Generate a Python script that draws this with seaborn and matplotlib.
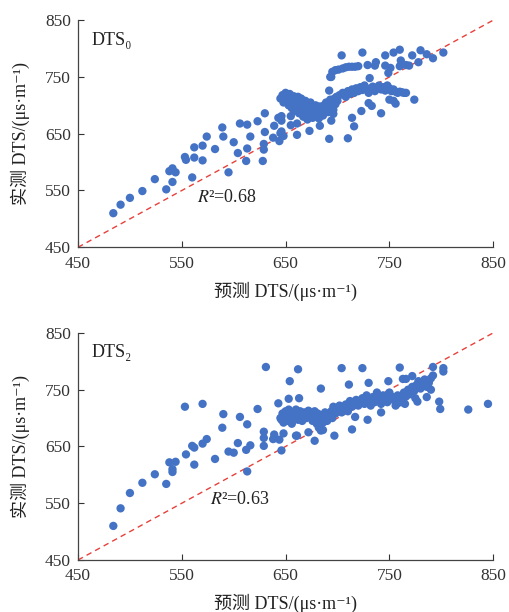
import numpy as np
import pandas as pd
import matplotlib
matplotlib.use("Agg")
import matplotlib.pyplot as plt
import seaborn as sns

pred0 = [484, 491, 500, 512, 524, 535, 538, 541, 541, 544, 553, 554, 560, 562, 562,
         570, 570, 574, 582, 589, 590, 595, 600, 604, 606, 612, 613, 613, 616, 623,
         628, 629, 629, 630, 630, 638, 639, 643, 644, 645, 646, 648, 646, 646, 655,
         655, 661, 661, 673, 672, 683, 692, 694, 696, 692, 694, 704, 698, 701, 705,
         710, 714, 716, 724, 723, 729, 731, 730, 733, 736, 737, 742, 746, 746, 749,
         751, 750, 754, 756, 754, 760, 760, 761, 766, 769, 772, 774, 778, 780, 786,
         792, 802,
         # dense blob
         645, 647, 648, 650, 651, 652, 653, 654, 655, 656, 657, 658, 659, 660, 661,
         662, 663, 664, 665, 666, 667, 668, 669, 670, 671, 672, 673, 674, 675, 676,
         677, 678, 679, 680, 681, 682, 683, 684, 685, 686, 687, 688, 689, 690, 691,
         692, 693, 694, 695, 696, 697, 698, 699, 700,
         # rising band
         702, 705, 708, 710, 712, 714, 716, 718, 720, 722, 724, 726, 728, 730, 732,
         734, 736, 738, 740, 742, 744, 746, 748, 750, 752, 754, 756, 758, 760, 762,
         764, 766,
         # upper band
         708, 711, 714, 717, 720, 693, 695]
meas0 = [510, 525, 537, 549, 570, 552, 584, 589, 565, 582, 609, 604, 573, 608, 626,
         629, 603, 645, 623, 661, 645, 582, 635, 616, 668, 602, 624, 666, 645, 672,
         602, 622, 632, 653, 686, 643, 664, 678, 637, 651, 654, 646, 673, 681, 665,
         681, 648, 668, 655, 681, 664, 641, 673, 685, 726, 750, 788, 762, 763, 765,
         642, 678, 663, 793, 690, 771, 748, 704, 699, 770, 776, 686, 788, 770, 757,
         766, 710, 708, 703, 793, 798, 769, 779, 771, 770, 788, 710, 776, 797, 790,
         783, 793,
         712, 718, 705, 722, 715, 708, 700, 720, 712, 695, 705, 716, 690, 710, 700,
         715, 686, 705, 712, 695, 680, 700, 708, 690, 675, 698, 685, 705, 692, 678,
         698, 688, 700, 683, 692, 677, 698, 688, 695, 682, 700, 690, 705, 695, 688,
         700, 710, 698, 705, 692, 712, 702, 715, 708,
         718, 722, 715, 725, 720, 728, 722, 730, 725, 732, 727, 735, 728, 722, 730,
         733, 725, 730, 735, 728, 732, 726, 735, 730, 725, 728, 724, 722, 724, 723,
         722, 722,
         767, 768, 768, 768, 769, 750, 759]

pred2 = [484, 491, 500, 512, 524, 535, 538, 541, 541, 544, 553, 554, 560, 562, 562,
         570, 570, 574, 582, 589, 590, 595, 600, 604, 606, 612, 613, 613, 616, 623,
         629, 629, 629, 631, 638, 639, 643, 644, 646, 646, 648, 653, 654, 660, 661,
         662, 663, 672, 678, 684, 686, 697, 704, 711, 714, 717, 724, 729, 730, 742,
         749, 760, 763, 766, 772, 777, 783, 786, 792, 792, 798, 799, 802, 802, 826,
         845,
         # dense blob and band
         645, 647, 648, 650, 651, 652, 653, 654, 655, 656, 657, 658, 660, 661, 662,
         664, 665, 666, 668, 670, 672, 674, 676, 678, 679, 680, 681, 682, 683, 684,
         685, 686, 688, 689, 690, 692, 694, 695, 696, 698, 700, 702, 704, 706, 708,
         710, 712, 714, 716, 718, 720, 722, 724, 726, 728, 730, 732, 734, 736, 738,
         740, 742, 744, 746, 748, 750, 752, 754, 756, 758, 760, 762, 764, 766, 768,
         770, 772, 774, 776, 778, 780, 782, 784, 786, 788, 790, 790, 775, 765, 758]
meas2 = [510, 541, 568, 586, 601, 584, 622, 610, 605, 623, 720, 636, 651, 648, 618,
         725, 655, 663, 628, 683, 707, 641, 639, 656, 702, 644, 606, 689, 652, 716,
         651, 665, 676, 790, 663, 671, 726, 662, 643, 697, 673, 734, 765, 669, 669,
         786, 735, 675, 660, 752, 679, 669, 788, 759, 680, 702, 788, 697, 762, 710,
         765, 789, 769, 769, 774, 729, 765, 737, 790, 775, 729, 716, 788, 782, 715,
         725,
         700, 708, 692, 712, 702, 695, 715, 705, 698, 690, 710, 702, 715, 705, 697,
         712, 703, 695, 710, 700, 713, 705, 695, 712, 700, 690, 708, 683, 698, 678,
         705, 692, 710, 700, 695, 705, 712, 700, 720, 708, 715, 722, 710, 718, 724,
         712, 730, 720, 726, 732, 722, 728, 735, 725, 740, 730, 722, 737, 728, 745,
         732, 725, 740, 735, 728, 745, 738, 732, 722, 740, 735, 728, 745, 738, 750,
         742, 755, 748, 758, 765, 752, 760, 768, 755, 762, 770, 750, 735, 725, 726]

panels = [("DTS₀", pred0, meas0, "0.68", (565, 537)),
          ("DTS₂", pred2, meas2, "0.63", (577, 556))]

sns.set_style("ticks")
plt.rcParams["font.family"] = ["Liberation Serif", "Noto Sans CJK SC", "DejaVu Serif"]
plt.rcParams["mathtext.fontset"] = "stix"

fig = plt.figure(figsize=(5.1, 6.12), dpi=100)
rects = [[0.153, 0.596, 0.814, 0.371], [0.153, 0.085, 0.814, 0.371]]

for rect, (name, px, my, r2, r2pos) in zip(rects, panels):
    ax = fig.add_axes(rect)
    df = pd.DataFrame({"pred": px, "meas": my})
    sns.scatterplot(data=df, x="pred", y="meas", ax=ax, color="#4472C4",
                    s=36, edgecolor="none", zorder=3)
    ax.plot([450, 850], [450, 850], color="#E8403A", lw=1.0, ls=(0, (4, 3)), zorder=2)
    ax.set_xlim(450, 850)
    ax.set_ylim(450, 850)
    ticks = [450, 550, 650, 750, 850]
    ax.set_xticks(ticks)
    ax.set_yticks(ticks)
    ax.tick_params(direction="in", length=4, width=0.8, labelsize=12.5,
                   colors="#333333")
    ax.tick_params(axis="x", pad=6)
    ax.tick_params(axis="y", pad=5)
    for s in ["left", "bottom"]:
        ax.spines[s].set_color("#444444")
        ax.spines[s].set_linewidth(0.9)
    sns.despine(ax=ax)
    ax.set_xlabel("预测 DTS/(μs·m⁻¹)", fontsize=13, color="#222222")
    ax.set_ylabel("实测 DTS/(μs·m⁻¹)", fontsize=13, color="#222222")
    ax.xaxis.set_label_coords(0.5, -0.15)
    ax.yaxis.set_label_coords(-0.115, 0.5)
    ax.text(463, 815, name, fontsize=13, color="#222222", va="center")
    ax.text(r2pos[0], r2pos[1], "$R$²=" + r2, fontsize=13, color="#222222",
            va="center")

fig.savefig("out.png", dpi=100)
